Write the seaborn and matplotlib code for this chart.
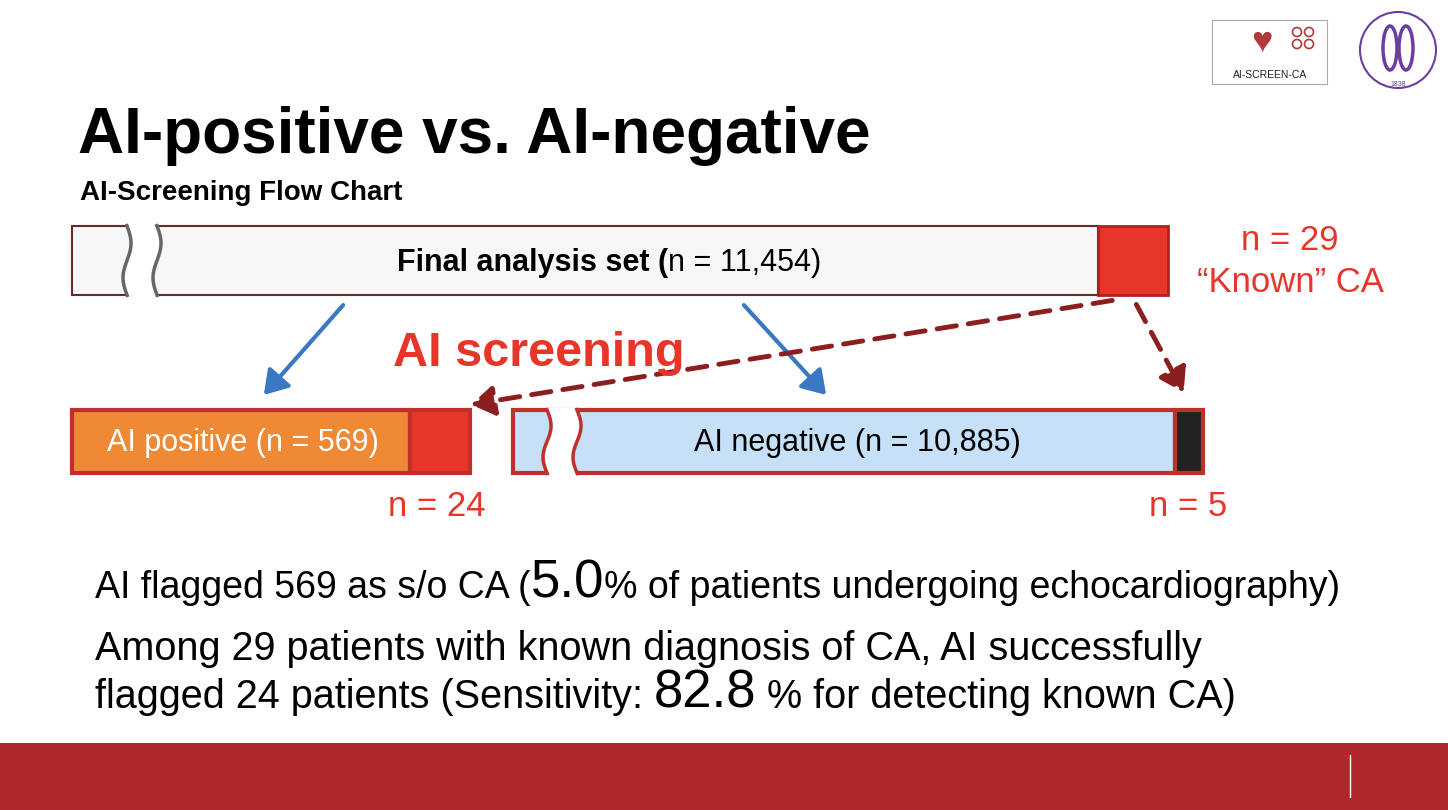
import numpy as np
import matplotlib
matplotlib.use("Agg")
import matplotlib.pyplot as plt
import seaborn as sns
from matplotlib.patches import Rectangle, Circle, Ellipse, FancyArrowPatch

sns.set_theme(style="white")
plt.rcParams['font.family'] = ['Liberation Sans', 'DejaVu Sans']
plt.rcParams['text.color'] = 'black'

# data
total_n = 11454
known_n = 29
groups = ["AI positive", "AI negative"]
group_n = [569, 10885]
known_in_group = [24, 5]
flag_pct = 5.0
sensitivity = 82.8

RED = "#e8352a"
DARKRED = "#8b1e1e"
BLUE = "#3b78c4"

fig = plt.figure(figsize=(14.48, 8.1), dpi=100)
ax = fig.add_axes([0, 0, 1, 1])
ax.set_xlim(0, 1448)
ax.set_ylim(810, 0)
ax.axis("off")


def box(x0, x1, y0, y1, fc, ec, lw):
    ax.add_patch(Rectangle((x0, y0), x1 - x0, y1 - y0, fc=fc, ec=ec, lw=lw, zorder=2))


def wave_break(xc, y0, y1, color, lw, gap=30, bg="white"):
    y = np.linspace(y0 - 2, y1 + 2, 60)
    for dx in (0, gap):
        x = xc + dx + 4 * np.sin((y - y0) / (y1 - y0) * 2 * np.pi)
        ax.plot(x, y, color=color, lw=lw, zorder=4, solid_capstyle="butt")
    xa = xc + 4 * np.sin((y - y0) / (y1 - y0) * 2 * np.pi)
    ax.fill_betweenx(y, xa + 2, xa + gap - 2, color=bg, zorder=3)


# top bar: final analysis set
box(72, 1098, 226, 295, "#f7f7f7", "#6b2a2a", 1.5)
box(1098, 1168, 226, 295, RED, "#b02020", 2)
wave_break(127, 226, 295, "#666666", 2.5)
ax.text(668, 263, "Final analysis set (", fontsize=22, fontweight="bold", ha="right", va="center")
ax.text(668, 263, f"n = {total_n:,})", fontsize=22, ha="left", va="center")
ax.text(1290, 240, f"n = {known_n}", fontsize=25, color=RED, ha="center", va="center")
ax.text(1290, 283, "\u201cKnown\u201d CA", fontsize=25, color=RED, ha="center", va="center")

# bottom bars
box(72, 410, 410, 473, "#ee8a36", "#c0302a", 3)
box(410, 470, 410, 473, RED, "#c0302a", 3)
ax.text(243, 443, f"{groups[0]} (n = {group_n[0]})", fontsize=22, color="white", ha="center", va="center")
box(513, 1175, 410, 473, "#c6e0f7", "#c0302a", 3)
box(1175, 1203, 410, 473, "#222222", "#c0302a", 3)
wave_break(547, 410, 473, "#c0302a", 2.5)
ax.text(857, 443, f"{groups[1]} (n = {group_n[1]:,})", fontsize=22, color="black", ha="center", va="center")
ax.text(437, 506, f"n = {known_in_group[0]}", fontsize=25, color=RED, ha="center", va="center")
ax.text(1188, 506, f"n = {known_in_group[1]}", fontsize=25, color=RED, ha="center", va="center")

# arrows
for (a, b) in [((345, 303), (262, 397)), ((742, 303), (828, 397))]:
    ax.add_patch(FancyArrowPatch(a, b, arrowstyle="-|>,head_length=14,head_width=9",
                                 color=BLUE, lw=3, zorder=5))
for (a, b) in [((1115, 300), (468, 405)), ((1135, 302), (1185, 395))]:
    ax.add_patch(FancyArrowPatch(a, b, arrowstyle="-|>,head_length=14,head_width=9",
                                 color=DARKRED, lw=3.5, linestyle=(0, (4, 2.5)), zorder=5))
ax.text(393, 353, "AI screening", fontsize=35, fontweight="bold", color=RED, ha="left", va="center", zorder=6)

# titles
ax.text(78, 136, "AI-positive vs. AI-negative", fontsize=46, fontweight="heavy", ha="left", va="center")
ax.text(80, 193, "AI-Screening Flow Chart", fontsize=20, fontweight="bold", ha="left", va="center")

# body text with mixed sizes
fig.canvas.draw()
renderer = fig.canvas.get_renderer()


def run(x, y, parts):
    for s, fs in parts:
        t = ax.text(x, y, s, fontsize=fs, ha="left", va="baseline")
        x += t.get_window_extent(renderer).width
    return x


run(95, 598, [("AI flagged 569 as s/o CA (", 27), (f"{flag_pct:.1f}", 38),
              ("% of patients undergoing echocardiography)", 27)])
run(95, 660, [(f"Among {known_n} patients with known diagnosis of CA, AI successfully", 28.5)])
run(95, 708, [(f"flagged {known_in_group[0]} patients (Sensitivity: ", 28.5), (f"{sensitivity:.1f}", 38),
              (" % for detecting known CA)", 28.5)])

# footer band
ax.add_patch(Rectangle((0, 743), 1448, 67, fc="#b0282c", ec="none"))
ax.plot([1350, 1350], [755, 797], color="white", lw=1)

# logos (simplified)
ax.add_patch(Rectangle((1212, 20), 115, 64, fc="white", ec="#aaaaaa", lw=0.8))
ax.text(1270, 75, "AI-SCREEN-CA", fontsize=7.5, color="#222222", ha="center", va="center")
ax.text(1262, 42, "\u2665", fontsize=26, color="#b03a3a", ha="center", va="center")
for dx, dy in [(0, 0), (12, 0), (0, 12), (12, 12)]:
    ax.add_patch(Circle((1297 + dx, 32 + dy), 4.5, fc="none", ec="#b03a3a", lw=1.2))
ax.add_patch(Circle((1398, 50), 38, fc="none", ec="#6a3fa0", lw=1.5))
ax.add_patch(Ellipse((1390, 48), 14, 44, fc="none", ec="#6a3fa0", lw=2.5))
ax.add_patch(Ellipse((1406, 48), 14, 44, fc="none", ec="#6a3fa0", lw=2.5))
ax.text(1398, 85, "1838", fontsize=5, color="#6a3fa0", ha="center", va="center")

fig.savefig("out.png", dpi=100, facecolor="white")
